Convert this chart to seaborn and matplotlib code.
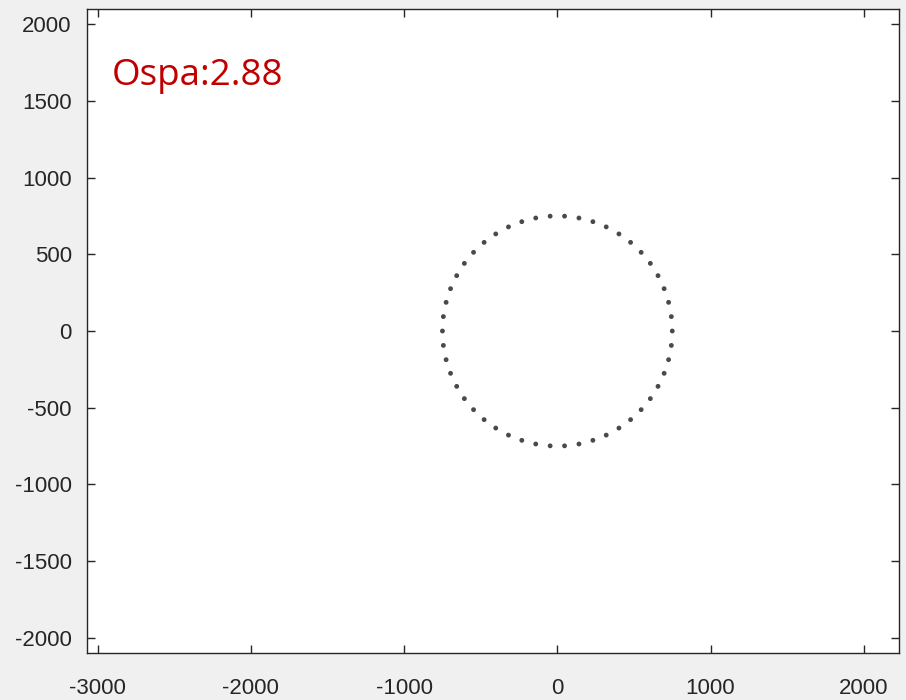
import matplotlib
matplotlib.use("Agg")
import matplotlib.pyplot as plt
import seaborn as sns
import pandas as pd

# Points (50 targets on a ring, radius ~750)
x_vals = [750, 744, 726, 697, 657, 607, 547, 478, 402, 319, 232, 141, 47,
          -47, -141, -232, -319, -402, -478, -547, -607, -657, -697, -726, -744,
          -750, -744, -726, -697, -657, -607, -547, -478, -402, -319, -232, -141, -47,
          47, 141, 232, 319, 402, 478, 547, 607, 657, 697, 726, 744]
y_vals = [0, 94, 187, 276, 361, 441, 513, 578, 633, 679, 713, 737, 749,
          749, 737, 713, 679, 633, 578, 513, 441, 361, 276, 187, 94,
          0, -94, -187, -276, -361, -441, -513, -578, -633, -679, -713, -737, -749,
          -749, -737, -713, -679, -633, -578, -513, -441, -361, -276, -187, -94]
x_ticks = [-3000, -2000, -1000, 0, 1000, 2000]
y_ticks = [-2000, -1500, -1000, -500, 0, 500, 1000, 1500, 2000]
label_text = "Ospa:2.88"

df = pd.DataFrame({"x": x_vals, "y": y_vals})

sns.set_style("ticks")
plt.rcParams["font.family"] = ["Liberation Sans", "DejaVu Sans"]

fig = plt.figure(figsize=(9.06, 7.0), dpi=100, facecolor="#f0f0f0")
ax = fig.add_axes([87 / 906, 1 - 653 / 700, (899 - 87) / 906, (653 - 9) / 700])
ax.set_facecolor("white")

sns.scatterplot(data=df, x="x", y="y", ax=ax, s=12, color="#4a4a4a",
                edgecolor="none", marker="o", legend=False)

ax.set_xlim(-3070, 2230)
ax.set_ylim(-2100, 2100)
ax.set_xticks(x_ticks)
ax.set_yticks(y_ticks)
ax.set_xticklabels([str(v) for v in x_ticks])
ax.set_yticklabels([str(v) for v in y_ticks])
ax.set_xlabel("")
ax.set_ylabel("")
ax.tick_params(direction="in", length=6, width=1, color="#262626",
               labelsize=16, labelcolor="#262626", top=True, right=True)
ax.tick_params(axis="x", pad=18)
ax.tick_params(axis="y", pad=11)
for sp in ax.spines.values():
    sp.set_visible(True)
    sp.set_color("#262626")
    sp.set_linewidth(1)

ax.text(0.031, 0.882, label_text, transform=ax.transAxes, color="#c00000",
        fontsize=26.5, family=["Open Sans", "DejaVu Sans"], va="baseline", ha="left")

fig.savefig("out.png", dpi=100, facecolor=fig.get_facecolor())
